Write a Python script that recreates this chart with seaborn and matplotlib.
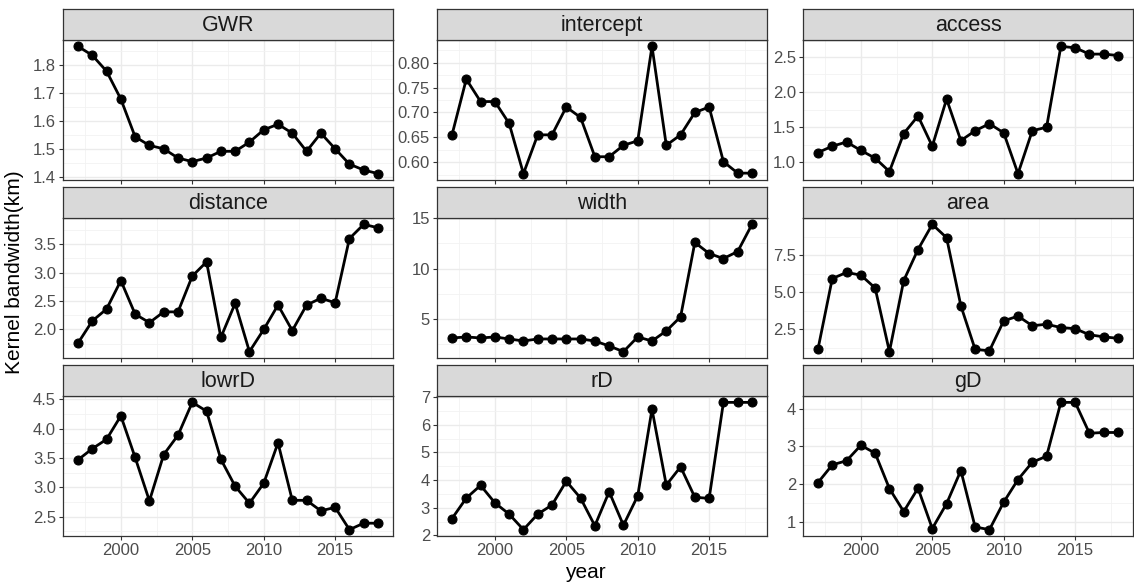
import numpy as np
import pandas as pd
import matplotlib
matplotlib.use("Agg")
import matplotlib.pyplot as plt
from matplotlib.ticker import FixedLocator, MultipleLocator, FormatStrFormatter
import seaborn as sns

years = list(range(1997, 2019))
panels = ["GWR", "intercept", "access", "distance", "width", "area", "lowrD", "rD", "gD"]

GWR = [1.868, 1.836, 1.779, 1.679, 1.544, 1.513, 1.501, 1.468, 1.455, 1.468, 1.492,
       1.492, 1.525, 1.569, 1.589, 1.557, 1.492, 1.557, 1.501, 1.446, 1.425, 1.412]
intercept = [0.655, 0.767, 0.722, 0.722, 0.678, 0.577, 0.655, 0.655, 0.711, 0.690, 0.611,
             0.611, 0.634, 0.643, 0.833, 0.634, 0.655, 0.700, 0.711, 0.601, 0.578, 0.578]
access = [1.14, 1.23, 1.29, 1.17, 1.06, 0.87, 1.41, 1.66, 1.23, 1.90, 1.31,
          1.45, 1.55, 1.42, 0.84, 1.45, 1.50, 2.65, 2.63, 2.54, 2.54, 2.52]
distance = [1.76, 2.15, 2.36, 2.86, 2.27, 2.12, 2.31, 2.31, 2.94, 3.19, 1.86,
            2.46, 1.61, 2.00, 2.43, 1.98, 2.43, 2.55, 2.47, 3.60, 3.85, 3.79]
width = [3.1, 3.2, 3.1, 3.2, 3.0, 2.8, 3.0, 3.0, 3.0, 3.0, 2.8,
         2.3, 1.74, 3.2, 2.8, 3.8, 5.2, 12.6, 11.5, 11.0, 11.7, 14.4]
area = [1.18, 5.94, 6.35, 6.17, 5.30, 1.00, 5.80, 7.90, 9.60, 8.70, 4.10,
        1.15, 1.06, 3.08, 3.40, 2.75, 2.85, 2.63, 2.55, 2.14, 2.00, 1.90]
lowrD = [3.47, 3.66, 3.82, 4.22, 3.51, 2.77, 3.56, 3.89, 4.45, 4.30, 3.48,
         3.02, 2.73, 3.07, 3.76, 2.78, 2.78, 2.60, 2.66, 2.28, 2.39, 2.39]
rD = [2.61, 3.35, 3.81, 3.18, 2.77, 2.21, 2.77, 3.10, 3.96, 3.35, 2.35,
      3.58, 2.37, 3.43, 6.56, 3.82, 4.48, 3.38, 3.34, 6.81, 6.81, 6.81]
gD = [2.04, 2.51, 2.62, 3.03, 2.82, 1.88, 1.27, 1.89, 0.82, 1.48, 2.36,
      0.86, 0.79, 1.52, 2.12, 2.58, 2.74, 4.17, 4.17, 3.35, 3.37, 3.37]

series = {"GWR": GWR, "intercept": intercept, "access": access, "distance": distance,
          "width": width, "area": area, "lowrD": lowrD, "rD": rD, "gD": gD}

y_ticks = {
    "GWR": [1.4, 1.5, 1.6, 1.7, 1.8],
    "intercept": [0.60, 0.65, 0.70, 0.75, 0.80],
    "access": [1.0, 1.5, 2.0, 2.5],
    "distance": [2.0, 2.5, 3.0, 3.5],
    "width": [5, 10, 15],
    "area": [2.5, 5.0, 7.5],
    "lowrD": [2.5, 3.0, 3.5, 4.0, 4.5],
    "rD": [2, 3, 4, 5, 6, 7],
    "gD": [1, 2, 3, 4],
}
y_fmt = {"GWR": "%.1f", "intercept": "%.2f", "access": "%.1f", "distance": "%.1f",
         "width": "%d", "area": "%.1f", "lowrD": "%.1f", "rD": "%d", "gD": "%d"}
x_ticks = [2000, 2005, 2010, 2015]

df = pd.concat([pd.DataFrame({"year": years, "value": series[p], "var": p}) for p in panels],
               ignore_index=True)

sns.set_theme(style="white")
plt.rcParams["font.family"] = ["Liberation Sans", "DejaVu Sans"]

W, H = 1134, 583
fig = plt.figure(figsize=(W / 100, H / 100), dpi=100)


def rect(x0, top, w, h):
    return [x0 / W, 1 - (top + h) / H, w / W, h / H]


col_x = [63, 437, 803]
col_w = 330
strip_top = [9, 187, 365]
strip_h = 31
panel_h = 140
border = "#333333"

xmin, xmax = years[0], years[-1]
xpad = (xmax - xmin) * 0.05

for i, p in enumerate(panels):
    r, c = divmod(i, 3)
    ax = fig.add_axes(rect(col_x[c], strip_top[r] + strip_h, col_w, panel_h))
    sub = df[df["var"] == p]
    sns.lineplot(data=sub, x="year", y="value", ax=ax, color="black", linewidth=2.0,
                 marker="o", markersize=6.5, markeredgecolor="black", zorder=3)
    vals = np.array(series[p])
    lo, hi = vals.min(), vals.max()
    pad = (hi - lo) * 0.05
    ax.set_ylim(lo - pad, hi + pad)
    ax.set_xlim(xmin - xpad, xmax + xpad)
    yt = y_ticks[p]
    ax.yaxis.set_major_locator(FixedLocator(yt))
    step = yt[1] - yt[0]
    ax.yaxis.set_minor_locator(MultipleLocator(step / 2))
    ax.yaxis.set_major_formatter(FormatStrFormatter(y_fmt[p]))
    ax.xaxis.set_major_locator(FixedLocator(x_ticks))
    ax.xaxis.set_minor_locator(MultipleLocator(2.5))
    ax.grid(which="major", color="#EBEBEB", linewidth=1.0, zorder=0)
    ax.grid(which="minor", color="#F2F2F2", linewidth=0.6, zorder=0)
    ax.set_axisbelow(True)
    ax.set_xlabel("")
    ax.set_ylabel("")
    ax.tick_params(axis="both", which="major", direction="out", length=3, width=0.8,
                   color=border, labelsize=12, labelcolor="#4D4D4D", pad=2,
                   left=True, bottom=True)
    ax.tick_params(axis="both", which="minor", length=0)
    if r < 2:
        ax.tick_params(axis="x", labelbottom=False)
    for s in ax.spines.values():
        s.set_color(border)
        s.set_linewidth(0.9)
    sax = fig.add_axes(rect(col_x[c], strip_top[r], col_w, strip_h))
    sax.set_facecolor("#D9D9D9")
    sax.set_xticks([])
    sax.set_yticks([])
    for s in sax.spines.values():
        s.set_color(border)
        s.set_linewidth(0.9)
    sax.text(0.5, 0.47, p, transform=sax.transAxes, ha="center", va="center",
             fontsize=15.5, color="#1A1A1A")

fig.text(585 / W, 1 - 572 / H, "year", ha="center", va="center", fontsize=15, color="black")
fig.text(15 / W, 1 - 272 / H, "Kernel bandwidth(km)", ha="center", va="center",
         rotation=90, fontsize=15, color="black")

fig.savefig("out.png", dpi=100, facecolor="white")
